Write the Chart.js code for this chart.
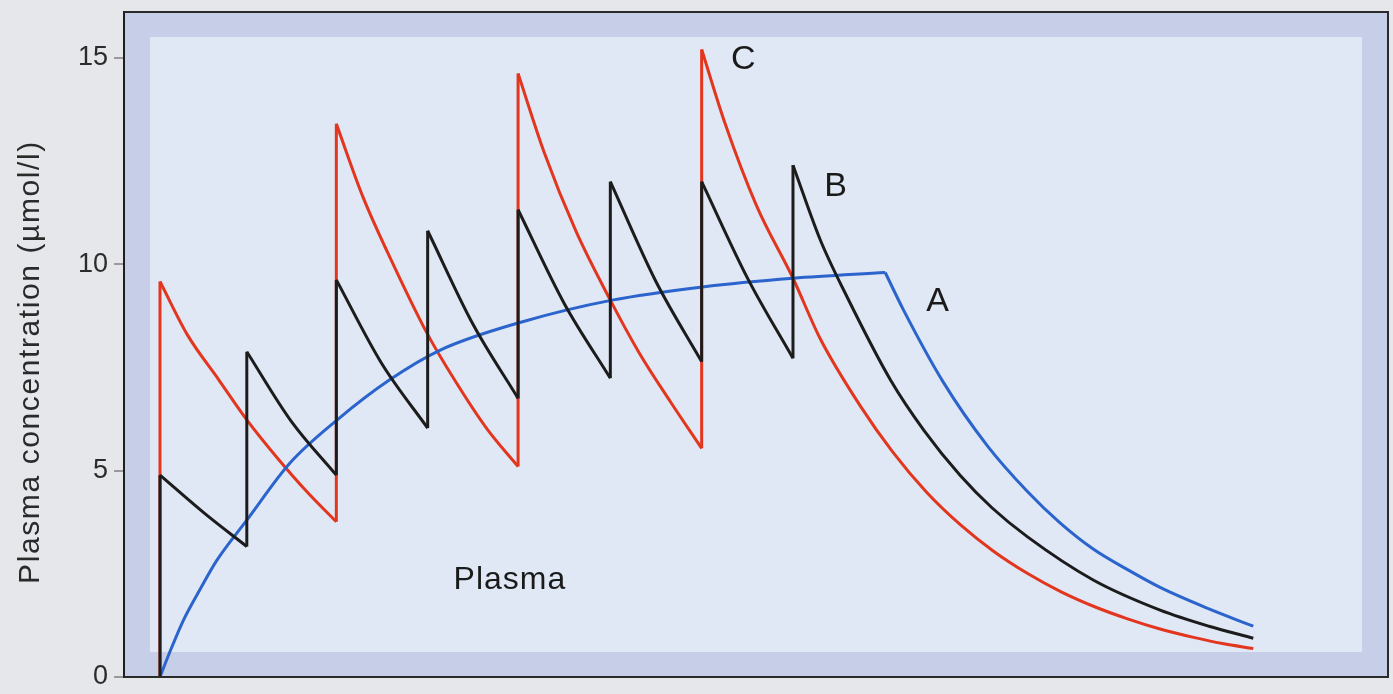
<!DOCTYPE html>
<html>
<head>
<meta charset="utf-8">
<script src="https://cdn.jsdelivr.net/npm/chart.js@4.4.1/dist/chart.umd.min.js"></script>
<style>
    html, body { margin: 0; padding: 0; background: #e6e7ea; }
    #wrap { width: 1393px; height: 694px; position: relative; }
</style>
</head>
<body>
<div id="wrap"><canvas id="myChart"></canvas></div>
<script>
// time axis: dosing intervals (B doses every interval, C every 2nd interval with double dose)
const aRiseTimes = [0, 0.13, 0.26, 0.45, 0.63, 0.96, 1.44, 1.96, 2.54, 3.1, 4, 5, 6, 7, 8.02];
const aRiseValues = [0, 0.72, 1.38, 2.15, 2.83, 3.8, 5.19, 6.23, 7.2, 7.92, 8.6, 9.13, 9.45, 9.66, 9.8];
const aFallTimes = [8.02, 8.22, 8.66, 9.15, 9.59, 9.95, 10.32, 10.7, 11.06, 11.6, 12.09];
const aFallValues = [9.8, 8.9, 7.15, 5.6, 4.5, 3.74, 3.1, 2.6, 2.17, 1.65, 1.23];

const bTimes = [0, 0, 0.5, 0.96, 0.96, 1.45, 1.95, 1.95, 2.45, 2.96, 2.96, 3.46, 3.96,
    3.96, 4.47, 4.98, 4.98, 5.48, 5.99, 5.99, 6.5, 7.0, 7.0, 7.3, 7.6, 8.08, 8.45,
    8.85, 9.2, 9.59, 10.32, 11.06, 11.6, 12.09];
const bValues = [0, 4.89, 3.95, 3.16, 7.88, 6.2, 4.89, 9.62, 7.6, 6.03, 10.81, 8.55, 6.75,
    11.32, 9.05, 7.24, 12.0, 9.6, 7.64, 12.0, 9.65, 7.72, 12.4, 10.6, 9.2, 7.19, 5.97,
    4.88, 4.1, 3.4, 2.35, 1.62, 1.23, 0.94];

const cTimes = [0, 0, 0.3, 0.65, 0.96, 1.3, 1.62, 1.95, 1.95, 2.25, 2.6, 2.96, 3.3, 3.62, 3.96,
    3.96, 4.25, 4.6, 4.98, 5.3, 5.65, 5.99, 5.99, 6.25, 6.6, 7.0, 7.3, 7.74, 8.1, 8.48,
    8.85, 9.21, 9.6, 9.96, 10.35, 10.7, 11.05, 11.43, 11.75, 12.09];
const cValues = [0, 9.58, 8.3, 7.2, 6.23, 5.3, 4.5, 3.76, 13.4, 11.6, 9.9, 8.3, 7.05, 6.0, 5.1,
    14.62, 12.7, 10.8, 9.13, 7.85, 6.65, 5.54, 15.2, 13.4, 11.4, 9.66, 8.2, 6.58, 5.46, 4.47,
    3.69, 3.06, 2.5, 2.07, 1.69, 1.41, 1.17, 0.96, 0.81, 0.69];

const yTicks = [0, 5, 10, 15];
const curveLabels = ['A', 'B', 'C'];
const curveLabelPos = [[8.6, 9.09], [7.47, 11.87], [6.45, 14.95]];
const plasmaPos = [3.87, 2.35];
const yTitle = 'Plasma concentration (µmol/l)';

const FONT = "'Liberation Sans', Arial, sans-serif";

// cut a dosing curve into vertical jumps and smooth decay pieces
function pieces(ts, vs) {
    const out = [];
    let cur = [];
    for (let i = 0; i < ts.length; i++) {
        const p = { x: ts[i], y: vs[i] };
        if (i + 1 < ts.length && ts[i + 1] === ts[i]) {
            if (cur.length) { cur.push(p); out.push(cur); }
            out.push([p, { x: ts[i + 1], y: vs[i + 1] }]);
            cur = [];
        } else {
            cur.push(p);
        }
    }
    if (cur.length > 1) out.push(cur);
    return out.filter(piece => piece.length > 1);
}

function curveSets(ts, vs, color, order) {
    return pieces(ts, vs).map(piece => ({
        data: piece,
        borderColor: color,
        borderWidth: 3,
        cubicInterpolationMode: 'monotone',
        order: order
    }));
}

const framePlugin = {
    id: 'framePlugin',
    beforeDraw(chart) {
        const { ctx, chartArea: a } = chart;
        ctx.save();
        ctx.fillStyle = '#c6cfe7';
        ctx.fillRect(a.left, a.top, a.right - a.left, a.bottom - a.top);
        ctx.fillStyle = '#e0e7f5';
        ctx.fillRect(a.left + 26, a.top + 25, a.right - a.left - 52, a.bottom - a.top - 50);
        ctx.restore();
    },
    afterDatasetsDraw(chart) {
        const { ctx, chartArea: a } = chart;
        ctx.save();
        ctx.strokeStyle = '#2a2a2a';
        ctx.lineWidth = 2;
        ctx.beginPath();
        ctx.moveTo(a.left, a.top);
        ctx.lineTo(a.right, a.top);
        ctx.lineTo(a.right, a.bottom);
        ctx.lineTo(a.left, a.bottom);
        ctx.stroke();
        ctx.restore();
    }
};

const textPlugin = {
    id: 'textPlugin',
    afterDatasetsDraw(chart) {
        const { ctx, scales: { x, y } } = chart;
        ctx.save();
        ctx.fillStyle = '#1a1a1a';
        ctx.textAlign = 'center';
        ctx.textBaseline = 'middle';
        ctx.font = '34px ' + FONT;
        curveLabels.forEach((lab, i) => {
            ctx.fillText(lab, x.getPixelForValue(curveLabelPos[i][0]), y.getPixelForValue(curveLabelPos[i][1]));
        });
        ctx.font = '32px ' + FONT;
        ctx.letterSpacing = '1px';
        ctx.fillText('Plasma', x.getPixelForValue(plasmaPos[0]), y.getPixelForValue(plasmaPos[1]));

        // y axis title
        ctx.translate(31, 362);
        ctx.rotate(-Math.PI / 2);
        ctx.fillStyle = '#2a2a2a';
        ctx.font = '30px ' + FONT;
        ctx.letterSpacing = '1.6px';
        ctx.fillText(yTitle, 0, 0);
        ctx.restore();
    }
};

const ctx1 = document.querySelector('#myChart').getContext('2d');

new Chart(ctx1, {
    type: 'line',
    data: {
        datasets: [
            ...curveSets(bTimes, bValues, '#1c1c1c', 0),
            ...curveSets(aRiseTimes, aRiseValues, '#2a64cc', 1),
            ...curveSets(aFallTimes, aFallValues, '#2a64cc', 1),
            ...curveSets(cTimes, cValues, '#e2361e', 2)
        ]
    },
    options: {
        responsive: true,
        maintainAspectRatio: false,
        animation: false,
        layout: { padding: { top: 12, right: 5, bottom: 17, left: 0 } },
        elements: { point: { radius: 0 }, line: { borderJoinStyle: 'miter', borderCapStyle: 'butt' } },
        plugins: {
            legend: { display: false },
            tooltip: { enabled: false }
        },
        scales: {
            x: {
                type: 'linear',
                min: -0.398,
                max: 13.58,
                display: false
            },
            y: {
                min: 0,
                max: 16.11,
                afterFit(scale) {
                    scale.width = 124;
                    scale.paddingTop = 0;
                    scale.paddingBottom = 0;
                },
                afterBuildTicks(scale) {
                    scale.ticks = yTicks.map(v => ({ value: v }));
                },
                ticks: {
                    color: '#2b2b2b',
                    padding: 6,
                    font: { family: FONT, size: 27 }
                },
                grid: {
                    drawOnChartArea: false,
                    drawTicks: true,
                    tickLength: 10,
                    color: '#9a9a9a',
                    lineWidth: 2
                },
                border: { display: true, color: '#1e1e1e', width: 2 }
            }
        }
    },
    plugins: [framePlugin, textPlugin]
});
</script>
</body>
</html>
